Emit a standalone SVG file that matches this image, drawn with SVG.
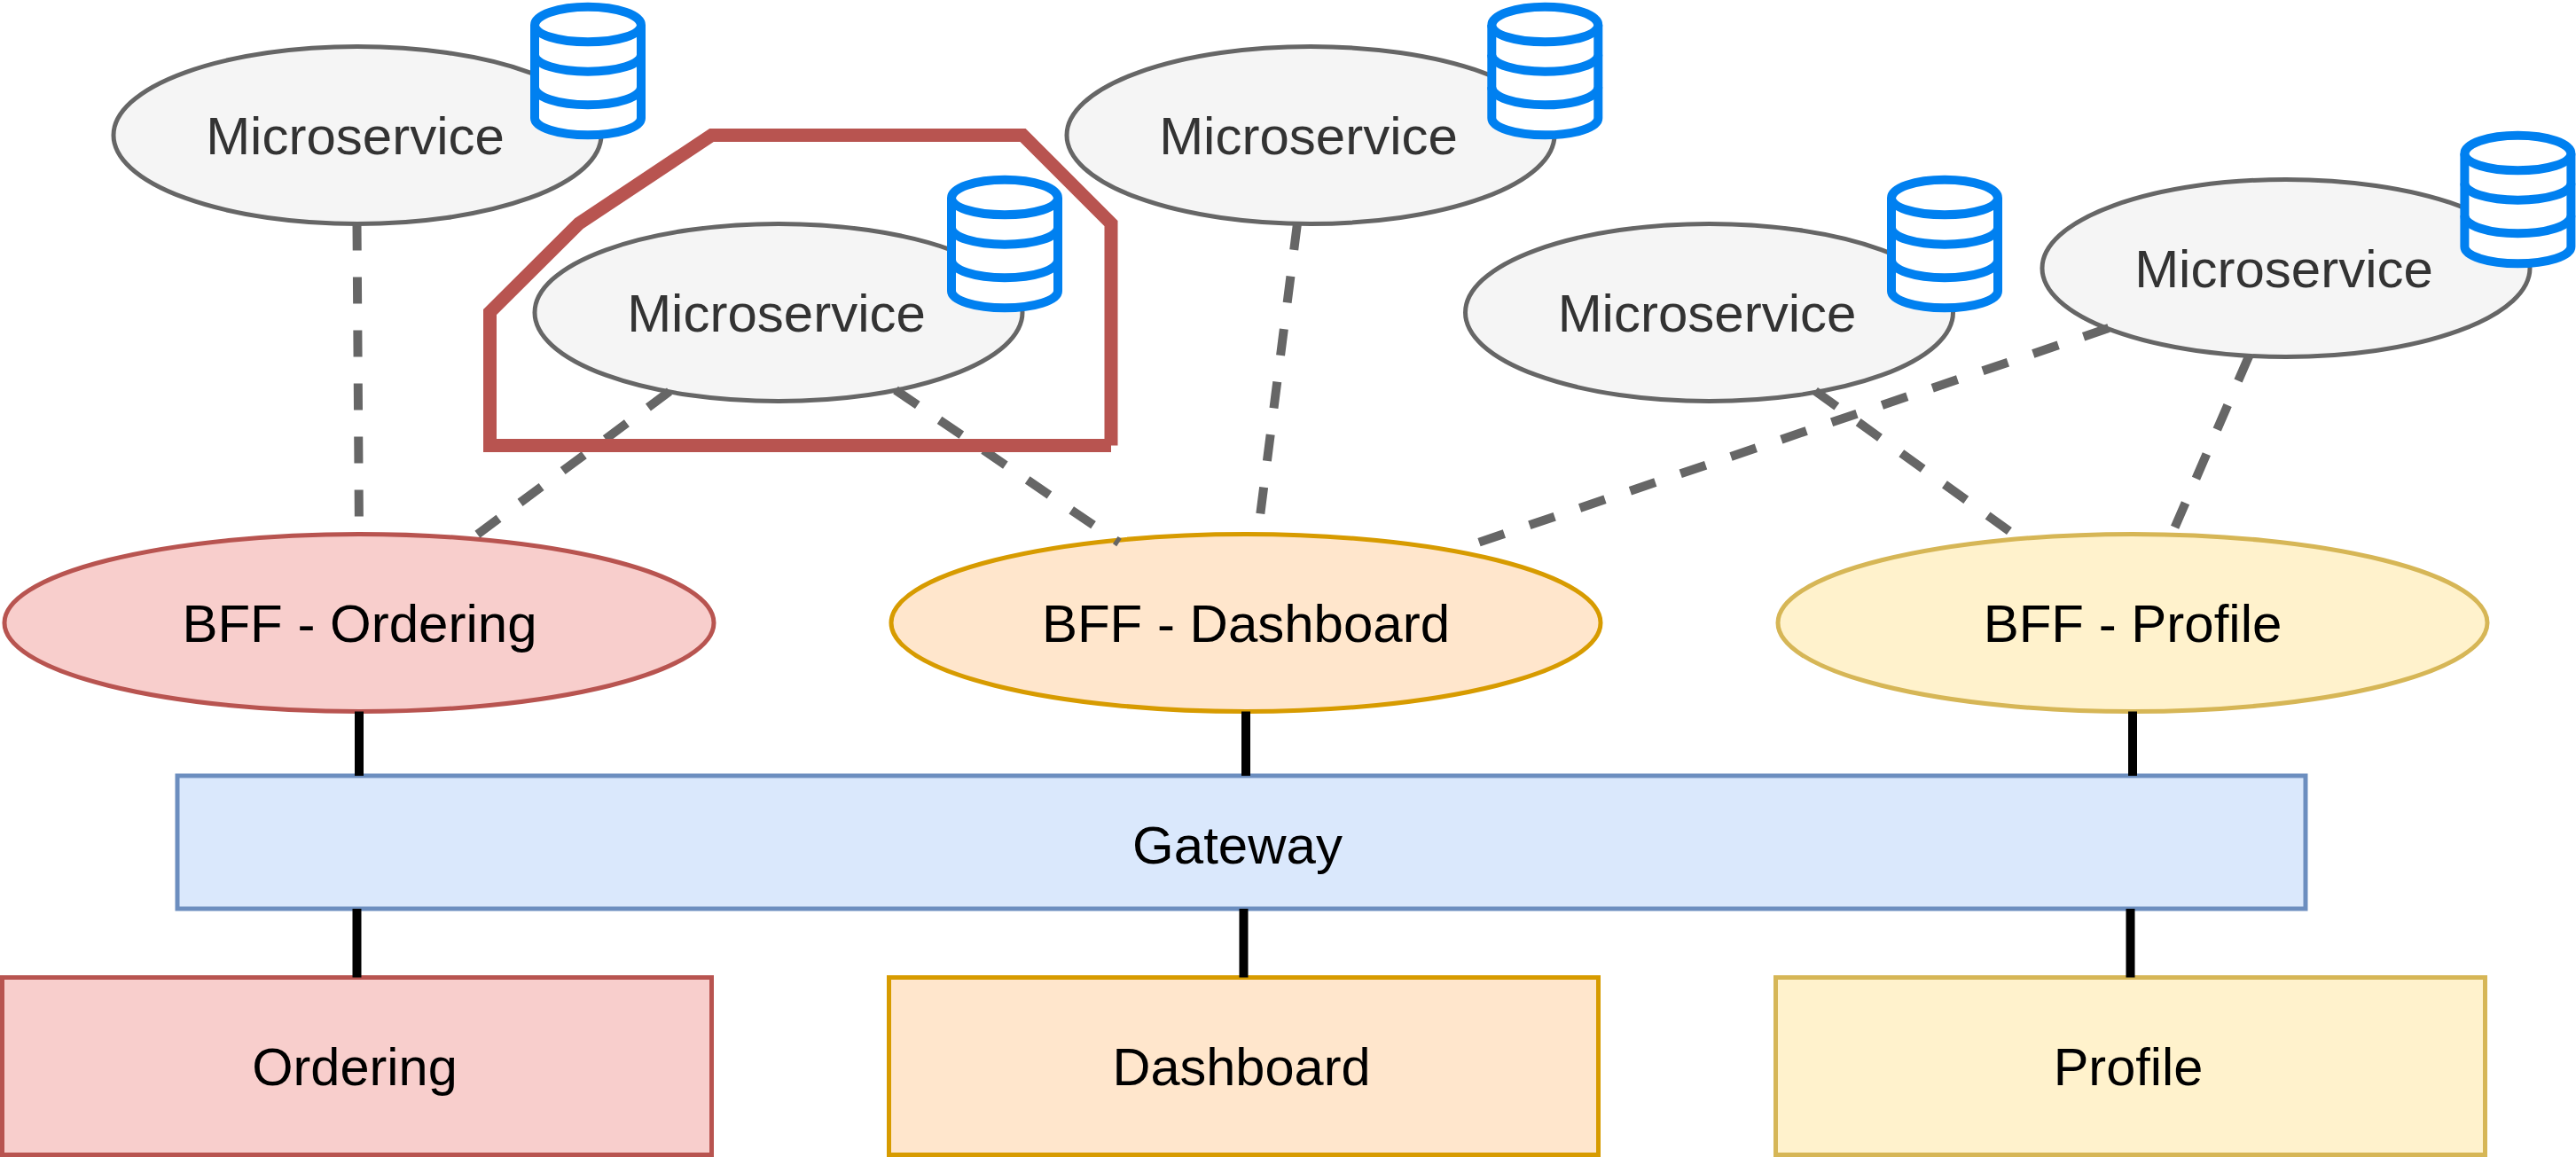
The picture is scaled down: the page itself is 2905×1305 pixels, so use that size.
<svg xmlns="http://www.w3.org/2000/svg" width="2905" height="1305" viewBox="0 0 2905 1305">
<style>
text{font-family:"Liberation Sans",Arial,sans-serif;font-size:60px;text-anchor:middle;fill:#000}
.lbl{font-size:59.500px}
.ms ellipse{fill:#f5f5f5;stroke:#666;stroke-width:5}
.ms text{fill:#333}
.red{fill:#f8cecc;stroke:#b85450;stroke-width:5}
.org{fill:#ffe6cc;stroke:#d79b00;stroke-width:5}
.yel{fill:#fff2cc;stroke:#d6b656;stroke-width:5}
.blu{fill:#dae8fc;stroke:#6c8ebf;stroke-width:5}
.dash{fill:none;stroke:#666;stroke-width:10;stroke-dasharray:30 30}
.solid{fill:none;stroke:#000;stroke-width:10}
.db{fill:#fff;stroke:#0080f0;stroke-width:10;stroke-linejoin:round}
</style>
<defs>
<g id="cyl">
<path class="db" d="M0 20.600C0 9.200 26.900 0 60 0S120 9.200 120 20.600V125.600C120 136 93.100 144.600 60 144.600S0 136 0 125.600Z"/>
<path class="db" style="fill:none" d="M0 20.600C0 31.500 26.900 39.600 60 39.600S120 31.500 120 20.600M0 54C0 65 26.900 73 60 73S120 65 120 54M0 90.600C0 102 26.900 110.600 60 110.600S120 102 120 90.600"/>
</g>
</defs>
<g id="ms1" class="ms"><ellipse cx="403" cy="152.500" rx="275" ry="100"/><text x="400.500" y="174.300">Microservice</text><use href="#cyl" x="603" y="7.700"/></g>
<g id="ms2" class="ms"><ellipse cx="878" cy="352.500" rx="275" ry="100"/><text x="875.500" y="374.300">Microservice</text><use href="#cyl" x="1073" y="202.700"/></g>
<g id="ms3" class="ms"><ellipse cx="1478" cy="152.500" rx="275" ry="100"/><text x="1475.500" y="174.300">Microservice</text><use href="#cyl" x="1682.300" y="7.700"/></g>
<g id="ms4" class="ms"><ellipse cx="1927.500" cy="352.500" rx="275" ry="100"/><text x="1925" y="374.300">Microservice</text><use href="#cyl" x="2133" y="202.700"/></g>
<g id="ms5" class="ms"><ellipse cx="2578" cy="302.500" rx="275" ry="100"/><text x="2575.500" y="324.300">Microservice</text><use href="#cyl" x="2779.400" y="152.700"/></g>
<g id="bff-ordering"><ellipse class="red" cx="405" cy="702.500" rx="400" ry="100"/><text x="405.500" y="724.300">BFF - Ordering</text></g>
<g id="bff-dashboard"><ellipse class="org" cx="1405" cy="702.500" rx="400" ry="100"/><text x="1405" y="724.300">BFF - Dashboard</text></g>
<g id="bff-profile"><ellipse class="yel" cx="2405" cy="702.500" rx="400" ry="100"/><text x="2405" y="724.300">BFF - Profile</text></g>
<g id="gateway"><rect class="blu" x="200" y="875" width="2400" height="150"/><text x="1395.500" y="974">Gateway</text></g>
<g id="ordering"><rect class="red" x="2.500" y="1102.500" width="800" height="200"/><text class="lbl" x="400" y="1224.300">Ordering</text></g>
<g id="dashboard"><rect class="org" x="1002.500" y="1102.500" width="800" height="200"/><text class="lbl" x="1400" y="1224.300">Dashboard</text></g>
<g id="profile"><rect class="yel" x="2002.500" y="1102.500" width="800" height="200"/><text class="lbl" x="2400" y="1224.300">Profile</text></g>
<g id="connectors">
<path class="dash" d="M402.500 252.500L405 602"/>
<path class="dash" d="M755 441.500L538 603"/>
<path class="dash" d="M1010 440L1262 612"/>
<path class="dash" d="M1463 252L1421 582"/>
<path class="dash" d="M2047 441L2270 602"/>
<path class="dash" d="M2378 370L1664 613"/>
<path class="dash" d="M2536 402L2452.500 595"/>
<path class="solid" d="M405 802.500V875M402.500 1025V1102.500M1405 802.500V875M1402.500 1025V1102.500M2405 802.500V875M2402.500 1025V1102.500"/>
</g>
<g id="highlight"><path d="M1253 502.500H552.500V352L653 252L802.500 152.500H1153.500L1253 252V502.500" fill="none" stroke="#b85450" stroke-width="15"/></g>
</svg>
